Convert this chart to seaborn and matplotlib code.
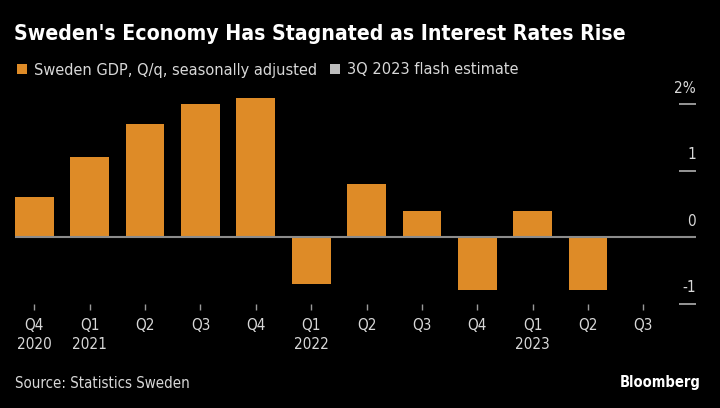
import matplotlib
matplotlib.use("Agg")
import matplotlib.pyplot as plt
import seaborn as sns
import pandas as pd
from matplotlib.patches import Patch

quarters = ["Q4 2020", "Q1 2021", "Q2 2021", "Q3 2021", "Q4 2021", "Q1 2022",
            "Q2 2022", "Q3 2022", "Q4 2022", "Q1 2023", "Q2 2023", "Q3 2023"]
tick_labels = ["Q4\n2020", "Q1\n2021", "Q2", "Q3", "Q4", "Q1\n2022",
               "Q2", "Q3", "Q4", "Q1\n2023", "Q2", "Q3"]
gdp = [0.6, 1.2, 1.7, 2.0, 2.1, -0.7, 0.8, 0.4, -0.8, 0.4, -0.8, 0.0]
series = ["Sweden GDP, Q/q, seasonally adjusted"] * 11 + ["3Q 2023 flash estimate"]
y_ticks = [-1, 0, 1, 2]
y_tick_labels = ["-1", "0", "1", "2%"]

ORANGE = "#DE8B27"
GREY_BAR = "#BDBDBD"
BG = "#000000"
TXT = "#D8D8D8"

sns.set_theme(style="dark")
plt.rcParams["font.family"] = ["DejaVu Sans", "Liberation Sans"]
plt.rcParams["font.stretch"] = "condensed"

df = pd.DataFrame({"quarter": quarters, "gdp": gdp, "series": series})

fig = plt.figure(figsize=(7.2, 4.08), dpi=100, facecolor=BG)
ax = fig.add_axes([15 / 720, 104.5 / 408, (696 - 15) / 720, (313.7 - 104.5) / 408])
ax.set_facecolor(BG)

palette = {series[0]: ORANGE, series[-1]: GREY_BAR}
sns.barplot(data=df, x="quarter", y="gdp", hue="series", order=quarters,
            palette=palette, dodge=False, width=0.7, saturation=1,
            legend=False, ax=ax, linewidth=0)

ax.set_xlim(-0.35, 11.95)
ax.set_ylim(-1.0, 2.15)
ax.axhline(0, color="#8C8C8C", lw=1.5, zorder=3)

for s in ax.spines.values():
    s.set_visible(False)
ax.grid(False)
ax.set_xlabel("")
ax.set_ylabel("")

ax.set_xticks(range(len(quarters)))
ax.set_xticklabels(tick_labels, color=TXT, fontsize=11, linespacing=1.35)
ax.tick_params(axis="x", direction="out", length=4.5, width=1, color="#9A9A9A",
               pad=6, bottom=True)

ax.yaxis.tick_right()
ax.set_yticks(y_ticks)
ax.set_yticklabels([])
ax.tick_params(axis="y", direction="in", length=12.5, width=1.2, color="#B0B0B0",
               right=True, left=False)
ytr = ax.get_yaxis_transform()
for v, lab in zip(y_ticks, y_tick_labels):
    ax.annotate(lab, xy=(1.0, v), xycoords=ytr, xytext=(0, 6),
                textcoords="offset points", ha="right", va="bottom",
                color=TXT, fontsize=11)

fig.text(14 / 720, 1 - 34 / 408, "Sweden's Economy Has Stagnated as Interest Rates Rise",
         color="white", fontsize=15.2, fontweight="bold", va="center", ha="left")

handles = [Patch(facecolor=ORANGE, edgecolor="none"),
           Patch(facecolor=GREY_BAR, edgecolor="none")]
fig.legend(handles, [series[0], series[-1]], loc="center left",
           bbox_to_anchor=(17 / 720, 1 - 70 / 408), ncol=2, frameon=False,
           handlelength=0.62, handleheight=0.62, handletextpad=0.42,
           columnspacing=0.8, borderaxespad=0, borderpad=0,
           labelcolor=TXT, prop={"size": 11.7})

fig.text(15 / 720, 1 - 383 / 408, "Source: Statistics Sweden", color=TXT,
         fontsize=10.8, va="center", ha="left")
fig.text(701 / 720, 1 - 382 / 408, "Bloomberg", color="white", fontsize=10.5,
         fontweight="bold", va="center", ha="right")

fig.savefig("out.png", dpi=100, facecolor=BG)
